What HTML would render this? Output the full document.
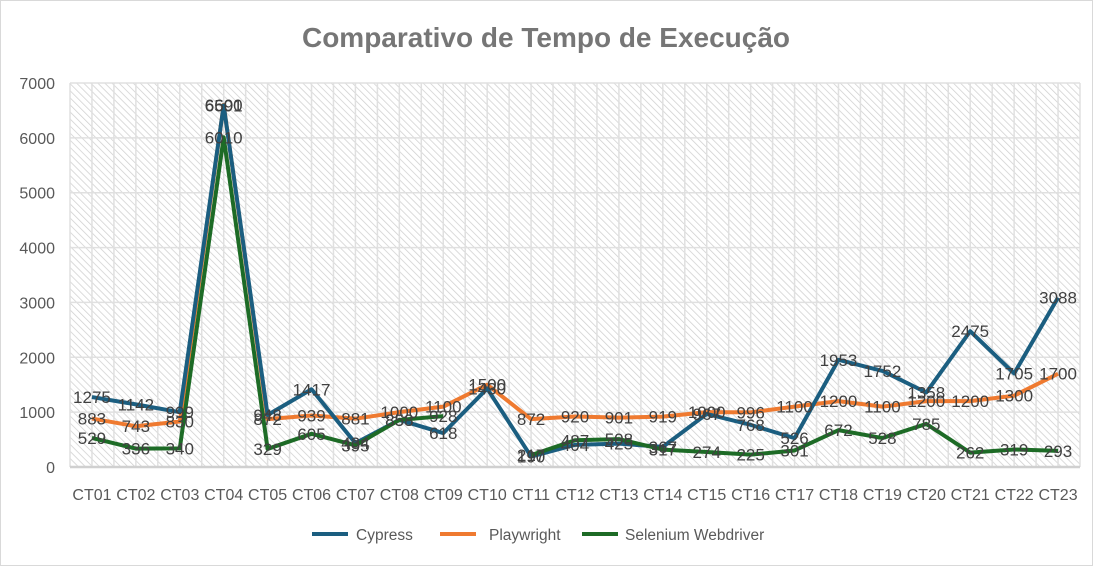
<!DOCTYPE html>
<html><head><meta charset="utf-8"><style>
body{margin:0;background:#fff;}
svg text{font-family:"Liberation Sans",sans-serif;}
</style></head><body>
<svg width="1093" height="566" xmlns="http://www.w3.org/2000/svg">
<defs>
<pattern id="h" width="5" height="5" patternUnits="userSpaceOnUse" patternTransform="rotate(-45)">
<rect width="5" height="5" fill="#fff"/><line x1="0" y1="0" x2="0" y2="5" stroke="#cfcfcf" stroke-width="1.5"/>
</pattern>
</defs>
<rect x="0.5" y="0.5" width="1092" height="565" fill="#fff" stroke="#d9d9d9"/>
<text x="546" y="47" text-anchor="middle" font-size="28" font-weight="bold" fill="#767676">Comparativo de Tempo de Execução</text>
<rect x="70" y="83" width="1010" height="384" fill="url(#h)"/>
<g id="grid" stroke="#e0e0e0" stroke-width="1.5"></g>
<g id="yl" font-size="16" fill="#595959" text-anchor="end"></g>
<g id="xl" font-size="16" fill="#595959" text-anchor="middle"></g>
<g id="ser" fill="none" stroke-width="4" stroke-linejoin="round"></g>
<g id="lab" font-size="17" fill="#404040" text-anchor="middle"></g>
<g font-size="15.5" fill="#595959">
<line x1="312" y1="534" x2="348" y2="534" stroke="#1b5e80" stroke-width="4"/><text x="356" y="540">Cypress</text>
<line x1="440" y1="534" x2="476" y2="534" stroke="#ef7a30" stroke-width="4"/><text x="489" y="540">Playwright</text>
<line x1="582" y1="534" x2="618" y2="534" stroke="#1d6b26" stroke-width="4"/><text x="625" y="540">Selenium Webdriver</text>
</g>
</svg>
<script>
const ns="http://www.w3.org/2000/svg";
function el(p,t,a,txt){const e=document.createElementNS(ns,t);for(const k in a)e.setAttribute(k,a[k]);if(txt!=null)e.textContent=txt;document.getElementById(p).appendChild(e);}
const L=70,R=1080,T=83,B=467,n=23,cw=(R-L)/n;
const Y=v=>B-v*(B-T)/7000, X=i=>L+(i+0.5)*cw;
for(let k=0;k<=46;k++){const x=L+k*cw/2;el('grid','line',{x1:x,y1:T,x2:x,y2:B});}
for(let v=0;v<=7000;v+=1000){el('grid','line',{x1:L,y1:Y(v),x2:R,y2:Y(v)});el('yl','text',{x:55,y:Y(v)+6},v);}
el('grid','line',{x1:L,y1:B,x2:R,y2:B,stroke:'#d0d0d0','stroke-width':2.5});
for(let i=0;i<n;i++)el('xl','text',{x:X(i),y:500},'CT'+String(i+1).padStart(2,'0'));
const S=[
['#ef7a30',[883,743,830,6600,872,939,881,1000,1100,1500,872,920,901,919,1000,996,1100,1200,1100,1200,1200,1300,1700]],
['#1b5e80',[1275,1142,999,6591,948,1417,434,858,618,1430,190,404,425,367,967,768,526,1953,1752,1358,2475,1705,3088]],
['#1d6b26',[529,336,340,6010,329,605,395,858,928,null,217,487,508,317,274,225,301,672,528,785,262,319,293]]];
for(const [c,d] of S){let p='',m=true;d.forEach((v,i)=>{if(v==null){m=true;return;}p+=(m?'M':'L')+X(i)+' '+Y(v)+' ';m=false;});el('ser','path',{d:p,stroke:c});}
for(const [c,d] of S)d.forEach((v,i)=>{if(v!=null)el('lab','text',{x:X(i),y:Y(v)+6},v);});
</script>
</body></html>
